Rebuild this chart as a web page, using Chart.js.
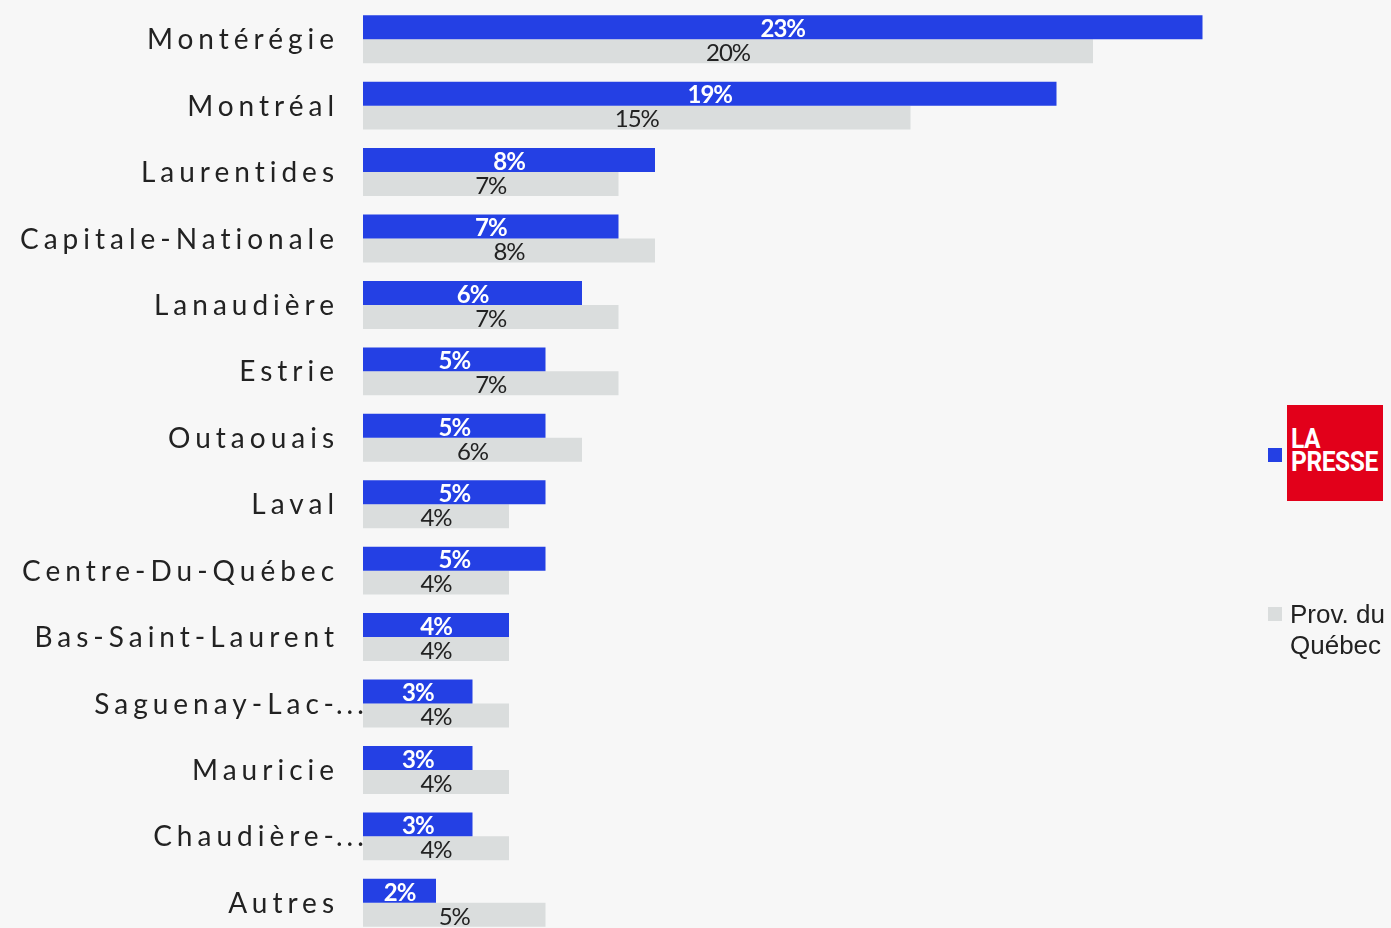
<!DOCTYPE html>
<html>
<head>
<meta charset="utf-8">
<script src="https://cdn.jsdelivr.net/npm/chart.js@4.4.1/dist/chart.umd.min.js"></script>
<style>
  html, body { margin: 0; padding: 0; background: #f7f7f7; overflow: hidden; width: 1391px; height: 928px; }
  #wrap { position: relative; width: 1391px; height: 936px; }
  canvas { display: block; }
  #legend { position: absolute; left: 0; top: 0; width: 1391px; height: 928px; pointer-events: none; }
  .sw { position: absolute; width: 14px; height: 14px; }
  .logo { position: absolute; background: #e2001a; color: #fff; font-family: Roboto, sans-serif; font-weight: bold; overflow: hidden; }
  .logo span { position: absolute; left: 4px; font-size: 27px; line-height: 27px; white-space: nowrap; transform: scaleX(0.91); transform-origin: 0 0; letter-spacing: -0.5px; }
  .ltxt { position: absolute; font-family: "Liberation Sans", Arial, sans-serif; font-size: 26px; line-height: 31px; color: #222; white-space: nowrap; }
</style>
</head>
<body>
<div id="wrap">
  <canvas id="c" width="1391" height="936"></canvas>
  <div id="legend"></div>
</div>
<script>
const categories = ["Montérégie", "Montréal", "Laurentides", "Capitale-Nationale", "Lanaudière", "Estrie", "Outaouais", "Laval", "Centre-Du-Québec", "Bas-Saint-Laurent", "Saguenay-Lac-...", "Mauricie", "Chaudière-...", "Autres"];
const seriesNames = ["La Presse", "Prov. du Québec"];
const laPresse = [23, 19, 8, 7, 6, 5, 5, 5, 5, 4, 3, 3, 3, 2];
const provQuebec = [20, 15, 7, 8, 7, 7, 6, 4, 4, 4, 4, 4, 4, 5];

const BLUE = "#2440e4";
const GRAY = "#dadddd";

const yLabelsPlugin = {
  id: "yLabels",
  afterDraw(chart) {
    const ctx = chart.ctx;
    const y = chart.scales.y;
    const sp = 5;
    ctx.save();
    ctx.font = "400 28px Lato, sans-serif";
    ctx.letterSpacing = sp + "px";
    ctx.fillStyle = "#222";
    ctx.textBaseline = "middle";
    const xr = 334 + sp;
    chart.data.labels.forEach((lab, i) => {
      const py = y.getPixelForValue(i) + 1;
      if (lab.endsWith("...")) {
        const base = lab.slice(0, -3);
        ctx.textAlign = "right";
        ctx.fillText(base, xr, py);
        ctx.textAlign = "left";
        ctx.letterSpacing = "4px";
        ctx.fillText("...", xr - sp + 2, py);
        ctx.letterSpacing = sp + "px";
      } else {
        ctx.textAlign = "right";
        ctx.fillText(lab, xr, py);
      }
    });
    ctx.restore();
  }
};

const valueLabelsPlugin = {
  id: "valueLabels",
  afterDatasetsDraw(chart) {
    const ctx = chart.ctx;
    ctx.save();
    ctx.textAlign = "center";
    ctx.textBaseline = "middle";
    ctx.letterSpacing = "-1px";
    chart.data.datasets.forEach((ds, di) => {
      const meta = chart.getDatasetMeta(di);
      if (di === 0) { ctx.font = "bold 24px Lato, sans-serif"; ctx.fillStyle = "#ffffff"; }
      else { ctx.font = "400 24px Lato, sans-serif"; ctx.fillStyle = "#222"; }
      meta.data.forEach((bar, i) => {
        const cx = (bar.x + bar.base) / 2;
        ctx.fillText(ds.data[i] + "%", cx, bar.y + 2);
      });
    });
    ctx.restore();
  }
};

const htmlLegendPlugin = {
  id: "htmlLegend",
  afterUpdate(chart) {
    const el = document.getElementById("legend");
    el.innerHTML = "";
    const ds = chart.data.datasets;
    const s1 = document.createElement("div");
    s1.className = "sw"; s1.style.background = ds[0].backgroundColor;
    s1.style.left = "1268px"; s1.style.top = "448px";
    el.appendChild(s1);
    const logo = document.createElement("div");
    logo.className = "logo";
    logo.style.left = "1287px"; logo.style.top = "405px";
    logo.style.width = "96px"; logo.style.height = "96px";
    logo.title = ds[0].label;
    const a = document.createElement("span"); a.textContent = "LA"; a.style.top = "21px";
    const b = document.createElement("span"); b.textContent = "PRESSE"; b.style.top = "44px";
    logo.appendChild(a); logo.appendChild(b);
    el.appendChild(logo);
    const s2 = document.createElement("div");
    s2.className = "sw"; s2.style.background = ds[1].backgroundColor;
    s2.style.left = "1268px"; s2.style.top = "607px";
    el.appendChild(s2);
    const t = document.createElement("div");
    t.className = "ltxt";
    t.style.left = "1290px"; t.style.top = "599px";
    t.innerHTML = "Prov. du<br>Québec";
    el.appendChild(t);
  }
};

new Chart(document.getElementById("c"), {
  type: "bar",
  data: {
    labels: categories,
    datasets: [
      { label: seriesNames[0], data: laPresse, backgroundColor: BLUE, categoryPercentage: 0.722, barPercentage: 1.0 },
      { label: seriesNames[1], data: provQuebec, backgroundColor: GRAY, categoryPercentage: 0.722, barPercentage: 1.0 }
    ]
  },
  options: {
    indexAxis: "y",
    responsive: false,
    devicePixelRatio: 1,
    animation: false,
    layout: { padding: { left: 363, right: 152, top: 6, bottom: 0 } },
    plugins: { legend: { display: false }, tooltip: { enabled: false } },
    scales: {
      x: { display: false, min: 0, max: 24 },
      y: { display: false }
    }
  },
  plugins: [yLabelsPlugin, valueLabelsPlugin, htmlLegendPlugin]
});
</script>
</body>
</html>
